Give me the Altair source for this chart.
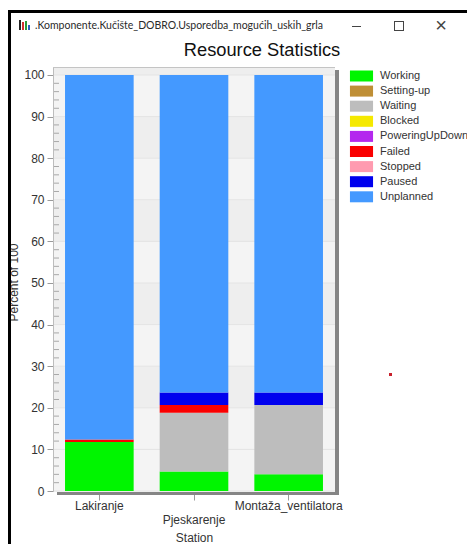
import altair as alt
import pandas as pd

stations = ["Lakiranje", "Pjeskarenje", "Montaža_ventilatora"]
states = ["Working", "Setting-up", "Waiting", "Blocked", "PoweringUpDown",
          "Failed", "Stopped", "Paused", "Unplanned"]
colors = ["#00f500", "#bf8f36", "#bdbdbd", "#f5e900", "#b428ee",
          "#fa0000", "#ff9bb0", "#0000ee", "#4499ff"]
lakiranje = [11.8, 0, 0, 0, 0, 0.6, 0, 0, 87.6]
pjeskarenje = [4.7, 0, 14.1, 0, 0, 1.9, 0, 3.0, 76.3]
montaza = [4.0, 0, 16.7, 0, 0, 0, 0, 3.0, 76.3]
y_ticks = [0, 10, 20, 30, 40, 50, 60, 70, 80, 90, 100]
minor_ticks = [v for v in range(2, 100, 2) if v % 10]
band_from = [-0.24, 10, 30, 50, 70, 90]
band_to = [10, 20, 40, 60, 80, 100]
band_dark_from = [20, 40, 60, 80, 100]
band_dark_to = [30, 50, 70, 90, 101.92]
window_title = ".Komponente.Kučište_DOBRO.Usporedba_mogućih_uskih_grla"

FONT = "Liberation Sans"
rows = []
for s, vals in zip(stations, [lakiranje, pjeskarenje, montaza]):
    for i, (st, v) in enumerate(zip(states, vals)):
        rows.append({"station": s, "state": st, "value": v, "idx": i})
df = pd.DataFrame(rows)

y_scale = alt.Scale(domain=[-0.24, 101.92], nice=False, zero=False)
y_axis = alt.Axis(values=y_ticks, grid=False, domain=False, tickSize=6, tickColor="#9a9a9a",
                  labelFont=FONT, labelFontSize=12, labelColor="#333333", labelPadding=3,
                  title="Percent of 100", titleFont=FONT, titleFontSize=12, titleFontWeight="normal",
                  titleColor="#333333", titleAngle=270, titleX=-36, titleY=215,
                  titleAlign="center", titleBaseline="alphabetic")

light = alt.Chart(pd.DataFrame({"a": band_from, "b": band_to})).mark_rect(color="#f4f4f4").encode(
    y=alt.Y("a:Q", scale=y_scale, axis=y_axis), y2="b:Q")
dark = alt.Chart(pd.DataFrame({"a": band_dark_from, "b": band_dark_to})).mark_rect(color="#eeeeee").encode(
    y=alt.Y("a:Q", scale=y_scale, axis=y_axis), y2="b:Q")
hgrid = alt.Chart(pd.DataFrame({"v": y_ticks})).mark_rule(color="#e4e4e4", strokeWidth=1).encode(
    y=alt.Y("v:Q", scale=y_scale, axis=y_axis))
minor = alt.Chart(pd.DataFrame({"v": minor_ticks})).mark_rule(color="#a8a8a8", strokeWidth=1).encode(
    y=alt.Y("v:Q", scale=y_scale, axis=y_axis), x=alt.value(0), x2=alt.value(6))

x_enc = alt.X("station:N", sort=stations,
              scale=alt.Scale(domain=stations, paddingInner=0.275, paddingOuter=0.127),
              axis=alt.Axis(grid=False, domain=False, tickSize=8, tickColor="#9a9a9a", labelAngle=0,
                            labelFont=FONT, labelFontSize=12, labelColor="#333333", labelPadding=0,
                            labelOverlap=False, labelLineHeight=14, labelBaseline="top",
                            labelExpr="datum.label == 'Pjeskarenje' ? ['', 'Pjeskarenje'] : datum.label",
                            title="Station", titleFont=FONT, titleFontSize=12, titleFontWeight="normal",
                            titleColor="#333333", titleX=141, titleY=49,
                            titleAlign="center", titleBaseline="alphabetic"))

legend = alt.Legend(title=None, orient="none", legendX=303, legendY=3.5,
                    symbolType="M-2.1,-1H2.1V1H-2.1Z", symbolSize=121, symbolStrokeWidth=0,
                    symbolOpacity=1, labelFont=FONT, labelFontSize=11, labelColor="#333333",
                    labelOffset=13, rowPadding=3.1, padding=0, labelLimit=200)

bars = alt.Chart(df).mark_bar(strokeWidth=0).encode(
    x=x_enc,
    y=alt.Y("value:Q", stack="zero", scale=y_scale, axis=y_axis),
    color=alt.Color("state:N", scale=alt.Scale(domain=states, range=colors), legend=legend),
    order=alt.Order("idx:Q"),
)


def box(x, x2, y, y2, color):
    return alt.Chart(pd.DataFrame({"k": [0]})).mark_rect(color=color, strokeWidth=0).encode(
        x=alt.value(x), x2=alt.value(x2), y=alt.value(y), y2=alt.value(y2))


def label(text, x, y, size, font=FONT, color="#222222", align="left"):
    return alt.Chart(pd.DataFrame({"k": [0]})).mark_text(
        font=font, fontSize=size, color=color, align=align, baseline="middle").encode(
        x=alt.value(x), y=alt.value(y), text=alt.value(text))


OX, OY = 53, 67  # view origin on the page
parts = [
    light, dark, hgrid, minor,
    box(0, 1, 0, 425, "#bdbdbd"),
    box(0, 282, 0, 1, "#c4c4c4"),
    box(282, 286, 3, 428, "#858585"),
    box(4, 286, 425, 428, "#858585"),
    bars,
    label("Resource Statistics", 262 - OX, 50.5 - OY, 18.3, FONT, "#111111", "center"),
    # window frame of the screenshot
    box(8 - OX, 11 - OX, 10 - OY, 544 - OY, "#000000"),
    box(8 - OX, 475 - OX, 10 - OY, 13 - OY, "#000000"),
    label(window_title, 35 - OX, 26 - OY, 10.5, "Lato", "#2a2a2a"),
    box(19 - OX, 21 - OX, 20 - OY, 30 - OY, "#222222"),
    box(22 - OX, 24 - OX, 22 - OY, 30 - OY, "#d03030"),
    box(25 - OX, 27 - OX, 21 - OY, 30 - OY, "#2a9a3a"),
    box(28 - OX, 30 - OX, 25 - OY, 30 - OY, "#2a60c0"),
    box(352 - OX, 361 - OX, 26 - OY, 27 - OY, "#444444"),
    box(394 - OX, 404 - OX, 21 - OY, 22 - OY, "#444444"),
    box(394 - OX, 404 - OX, 30 - OY, 31 - OY, "#444444"),
    box(394 - OX, 395 - OX, 21 - OY, 31 - OY, "#444444"),
    box(403 - OX, 404 - OX, 21 - OY, 31 - OY, "#444444"),
    label("×", 441 - OX, 25.5 - OY, 20, "Liberation Sans", "#444444", "center"),
    box(389 - OX, 392 - OX, 373 - OY, 376 - OY, "#c8202c"),
]

chart = alt.layer(*parts).resolve_scale(color="independent").properties(
    width=282, height=425,
    autosize=alt.AutoSizeParams(type="none"),
    padding={"left": 45, "top": 59, "right": 132, "bottom": 52},
).configure_view(stroke=None)

chart.save("out.html", embed_options={"renderer": "svg", "actions": False})
